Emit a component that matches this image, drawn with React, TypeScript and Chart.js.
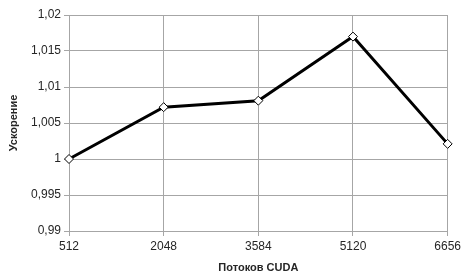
import React, { useEffect, useRef } from "react";
import { Chart, registerables } from "chart.js";

Chart.register(...registerables);

const categories = ["512", "2048", "3584", "5120", "6656"];
const speedup = [1.0, 1.0072, 1.0081, 1.017, 1.0021];
const yMin = 0.99;
const yMax = 1.02;
const yStep = 0.005;
const xTitle = "Потоков CUDA";
const yTitle = "Ускорение";

const FONT = "'Liberation Sans', Arial, sans-serif";

export default function App() {
  const ref = useRef<HTMLCanvasElement | null>(null);
  useEffect(() => {
    document.body.style.margin = "0";
    const ctx = ref.current!;
    const chart = new Chart(ctx, {
      type: "line",
      data: {
        labels: categories,
        datasets: [
          {
            data: speedup,
            borderColor: "#000000",
            borderWidth: 3,
            pointStyle: "rectRot",
            pointRadius: 4.5,
            pointBackgroundColor: "#ffffff",
            pointBorderColor: "#000000",
            pointBorderWidth: 1,
            tension: 0,
          },
        ],
      },
      options: {
        animation: false,
        responsive: false,
        devicePixelRatio: 1,
        layout: { padding: { top: 15, right: 15, left: 0, bottom: 0 } },
        plugins: { legend: { display: false }, tooltip: { enabled: false } },
        scales: {
          x: {
            offset: false,
            grid: { color: "#a6a6a6", lineWidth: 1, tickLength: 5 },
            border: { color: "#a6a6a6" },
            ticks: { color: "#262626", font: { family: FONT, size: 12 }, padding: 3, maxRotation: 0 },
            title: {
              display: true,
              text: xTitle,
              color: "#262626",
              font: { family: FONT, size: 11, weight: "bold" },
              padding: { top: 4, bottom: 0 },
            },
            afterFit: (s: any) => {
              s.height = 44;
            },
          },
          y: {
            min: yMin,
            max: yMax,
            grid: { color: "#a6a6a6", lineWidth: 1, tickLength: 5 },
            border: { color: "#a6a6a6" },
            ticks: {
              stepSize: yStep,
              color: "#262626",
              font: { family: FONT, size: 12 },
              padding: 3,
              callback: (v: any) => Number(Number(v).toFixed(3)).toString().replace(".", ","),
            },
            title: {
              display: true,
              text: yTitle,
              color: "#262626",
              font: { family: FONT, size: 11, weight: "bold" },
              padding: { top: 7, bottom: 0 },
            },
            afterFit: (s: any) => {
              s.width = 69;
            },
          },
        },
      },
    });
    return () => chart.destroy();
  }, []);
  return (
    <div style={{ position: "absolute", left: 0, top: 0, width: 464, height: 275, background: "#fff" }}>
      <canvas ref={ref} width={464} height={275} />
    </div>
  );
}
